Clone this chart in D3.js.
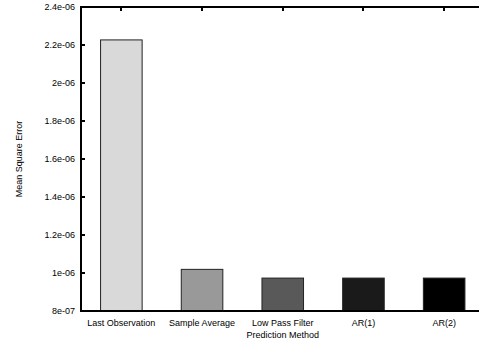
<!DOCTYPE html>
<html>
<head>
<meta charset="utf-8">
<script src="https://cdn.jsdelivr.net/npm/d3@7"></script>
<style>
  html, body { margin: 0; padding: 0; background: #fff; }
  svg { display: block; }
</style>
</head>
<body>
<svg id="chart" width="479" height="347"></svg>
<script>
// Prediction methods and their mean square error
const methods = ["Last Observation", "Sample Average", "Low Pass Filter", "AR(1)", "AR(2)"];
const mse = [2.228e-6, 1.018e-6, 0.972e-6, 0.972e-6, 0.972e-6];
const fills = ["#d9d9d9", "#999999", "#595959", "#1a1a1a", "#000000"];
const yTicks = [8e-7, 1e-6, 1.2e-6, 1.4e-6, 1.6e-6, 1.8e-6, 2e-6, 2.2e-6, 2.4e-6];
const yTickLabels = ["8e-07", "1e-06", "1.2e-06", "1.4e-06", "1.6e-06", "1.8e-06", "2e-06", "2.2e-06", "2.4e-06"];

const svg = d3.select("#chart");
const plotLeft = 81, plotRight = 484.5, plotTop = 7.3, plotBottom = 310.7;
const font = "Liberation Sans, Arial, sans-serif";

const x = d3.scaleBand().domain(methods).range([plotLeft, plotRight]).paddingInner(0.485).paddingOuter(0.2425);
const y = d3.scaleLinear().domain([8e-7, 2.4e-6]).range([plotBottom, plotTop]);

// bars
svg.selectAll("rect.bar").data(methods).join("rect")
  .attr("class", "bar")
  .attr("x", d => x(d))
  .attr("y", (d, i) => y(mse[i]))
  .attr("width", x.bandwidth())
  .attr("height", (d, i) => plotBottom - y(mse[i]))
  .attr("fill", (d, i) => fills[i])
  .attr("stroke", "#222")
  .attr("stroke-width", 1);

// plot frame: top, bottom and left edges, pixel aligned
const edge = 2;
const fx = Math.round(plotLeft) - 1, ft = Math.round(plotTop) - 1, fb = Math.round(plotBottom) - 1;
svg.append("rect").attr("x", fx).attr("y", ft).attr("width", 479 - fx).attr("height", edge).attr("fill", "#000");
svg.append("rect").attr("x", fx).attr("y", fb).attr("width", 479 - fx).attr("height", edge).attr("fill", "#000");
svg.append("rect").attr("x", fx).attr("y", ft).attr("width", edge).attr("height", fb - ft + edge).attr("fill", "#000");

// inward tick marks
svg.selectAll("rect.ytick").data(yTicks).join("rect")
  .attr("class", "ytick")
  .attr("x", fx).attr("y", d => Math.round(y(d)) - 1)
  .attr("width", 5).attr("height", 2).attr("fill", "#000");
svg.selectAll("rect.xtick").data(methods).join("rect")
  .attr("class", "xtick")
  .attr("x", d => Math.round(x(d) + x.bandwidth() / 2) - 1).attr("y", ft)
  .attr("width", 2).attr("height", 5).attr("fill", "#000");

// y tick labels
svg.selectAll("text.ylab").data(yTicks).join("text")
  .attr("class", "ylab")
  .attr("x", plotLeft - 6).attr("y", d => y(d)).attr("dy", "0.32em")
  .attr("text-anchor", "end").attr("font-size", 9).attr("font-family", font)
  .text((d, i) => yTickLabels[i]);

// category labels
svg.selectAll("text.xlab").data(methods).join("text")
  .attr("class", "xlab")
  .attr("x", d => x(d) + x.bandwidth() / 2).attr("y", plotBottom + 9).attr("dy", "0.71em")
  .attr("text-anchor", "middle").attr("font-size", 9).attr("font-family", font)
  .text(d => d);

// axis titles
svg.append("text")
  .attr("x", (plotLeft + plotRight) / 2).attr("y", 337.5)
  .attr("text-anchor", "middle").attr("font-size", 9).attr("font-family", font)
  .text("Prediction Method");
svg.append("text")
  .attr("transform", `translate(22,${(plotTop + plotBottom) / 2}) rotate(-90)`)
  .attr("text-anchor", "middle").attr("font-size", 9).attr("font-family", font)
  .text("Mean Square Error");
</script>
</body>
</html>
